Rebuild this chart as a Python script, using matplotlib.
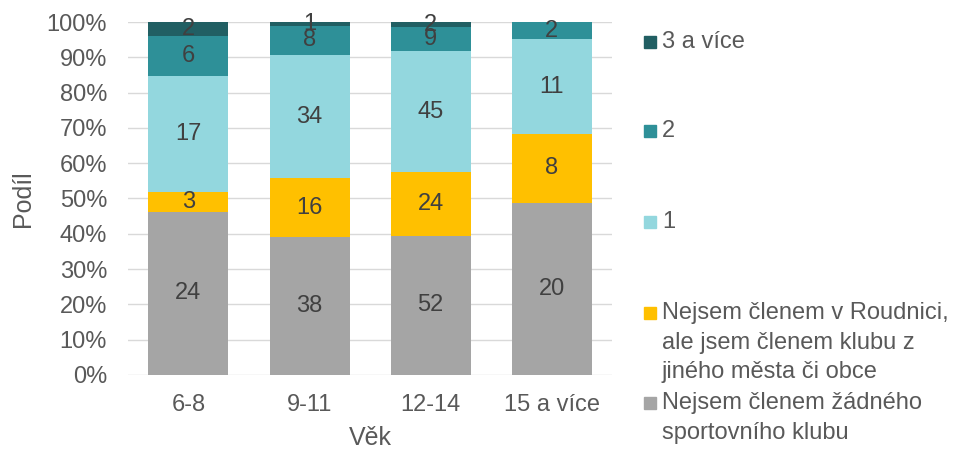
import matplotlib.pyplot as plt
import numpy as np

plt.rcParams['font.family'] = ['Liberation Sans', 'DejaVu Sans']

categories = ["6-8", "9-11", "12-14", "15 a více"]
series_names = [
    "Nejsem členem žádného\nsportovního klubu",
    "Nejsem členem v Roudnici,\nale jsem členem klubu z\njiného města či obce",
    "1",
    "2",
    "3 a více",
]
none_club = [24, 38, 52, 20]
other_town = [3, 16, 24, 8]
one_club = [17, 34, 45, 11]
two_clubs = [6, 8, 9, 2]
three_plus = [2, 1, 2, 0]
colors = ["#A5A5A5", "#FFC000", "#93D7DE", "#2E9098", "#215F63"]

counts = np.array([none_club, other_town, one_club, two_clubs, three_plus], dtype=float)
shares = counts / counts.sum(axis=0)

fig = plt.figure(figsize=(9.54, 4.49), dpi=100)
ax = fig.add_axes([0.134, 0.165, 0.508, 0.786])

x = np.arange(len(categories))
bottom = np.zeros(len(categories))
for vals, share, color in zip(counts, shares, colors):
    ax.bar(x, share, 0.66, bottom=bottom, color=color, zorder=2)
    for xi, v, s, b in zip(x, vals, share, bottom):
        if v > 0:
            ax.text(xi, b + s / 2, f"{int(v)}", ha="center", va="center",
                    fontsize=17, color="#404040", zorder=3)
    bottom += share

ax.set_xlim(-0.5, len(categories) - 0.5)
ax.set_ylim(0, 1)
ticks = np.linspace(0, 1, 11)
ax.set_yticks(ticks)
ax.set_yticklabels([f"{int(round(t * 100))}%" for t in ticks])
ax.set_xticks(x)
ax.set_xticklabels(categories)
ax.tick_params(axis="y", length=0, labelsize=17, labelcolor="#595959", pad=15)
ax.tick_params(axis="x", length=0, labelsize=17, labelcolor="#595959", pad=14)
ax.yaxis.grid(True, color="#D9D9D9", linewidth=1, zorder=0)
for sp in ax.spines.values():
    sp.set_visible(False)
ax.set_xlabel("Věk", fontsize=18, color="#595959", labelpad=7)
ax.set_ylabel("Podíl", fontsize=18, color="#595959", labelpad=8)

# legend drawn by hand to mimic spacing of the original (top entry first)
legend_y = [42, 131, 222, 313, 403]
order = list(range(len(series_names)))[::-1]
for idx, ypx in zip(order, legend_y):
    yf = 1 - ypx / 449
    fig.patches.append(plt.Rectangle((644 / 954, yf - 6 / 449), 12 / 954, 12 / 449,
                                     transform=fig.transFigure, color=colors[idx]))
    fig.text(662 / 954, yf + 11 / 449, series_names[idx], fontsize=17, color="#595959",
             va="top", ha="left", linespacing=1.45)

fig.savefig("out.png", dpi=100)
